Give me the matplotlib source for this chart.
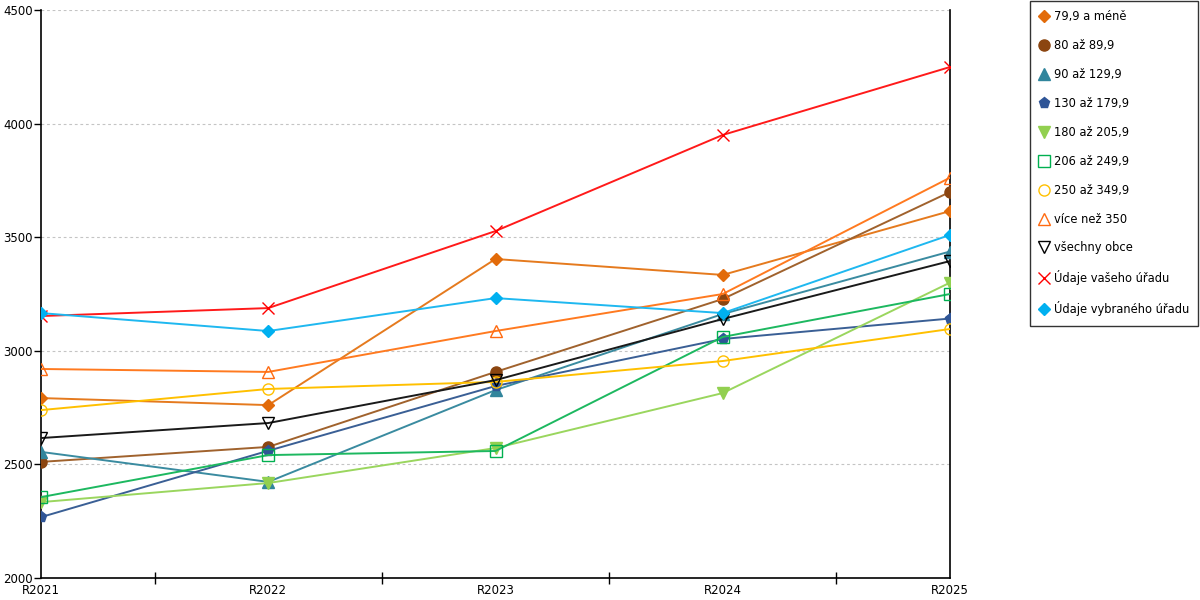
import matplotlib
matplotlib.use('Agg')
import matplotlib.pyplot as plt
from matplotlib.lines import Line2D

years = ['R2021', 'R2022', 'R2023', 'R2024', 'R2025']

# values per series
s_79 = [2792, 2761, 3404, 3334, 3615]
s_80 = [2511, 2577, 2907, 3228, 3699]
s_90 = [2555, 2423, 2827, 3162, 3437]
s_130 = [2268, 2560, 2845, 3052, 3142]
s_180 = [2334, 2418, 2572, 2814, 3300]
s_206 = [2356, 2541, 2559, 3061, 3250]
s_250 = [2739, 2832, 2863, 2955, 3096]
s_350 = [2920, 2907, 3087, 3250, 3762]
s_all = [2616, 2682, 2871, 3140, 3395]
s_vas = [3153, 3188, 3527, 3950, 4249]
s_vyb = [3166, 3087, 3232, 3166, 3510]

labels = ['79,9 a méně', '80 až 89,9', '90 až 129,9', '130 až 179,9', '180 až 205,9',
          '206 až 249,9', '250 až 349,9', 'více než 350', 'všechny obce',
          'Údaje vašeho úřadu', 'Údaje vybraného úřadu']

# (values, line colour, marker, marker face, marker edge, size)
styles = [
    (s_79, '#E57A1E', 'D', '#E26B0A', '#E26B0A', 6),
    (s_80, '#A0622D', 'o', '#8B4510', '#8B4510', 8),
    (s_90, '#3A8BA0', '^', '#31859C', '#31859C', 8),
    (s_130, '#3A5F95', 'p', '#2F5597', '#2F5597', 8),
    (s_180, '#9AD65E', 'v', '#92D050', '#92D050', 8),
    (s_206, '#1DB860', 's', 'none', '#00B050', 8),
    (s_250, '#FFC000', 'o', 'none', '#FFC000', 8),
    (s_350, '#FF7A20', '^', 'none', '#FF6A10', 9),
    (s_all, '#1A1A1A', 'v', 'none', '#000000', 9),
    (s_vas, '#FF1A1A', 'x', '#FF0000', '#FF0000', 9),
    (s_vyb, '#1FB8F0', 'D', '#00B0F0', '#00B0F0', 6),
]

fig = plt.figure(figsize=(12, 6), dpi=100)
ax = fig.add_axes([41 / 1200, 1 - 578 / 600, (950 - 41) / 1200, (578 - 10) / 600])

x = list(range(len(years)))
handles = []
for (vals, lc, mk, mf, me, ms), lab in zip(styles, labels):
    ax.plot(x, vals, color=lc, linewidth=1.4, marker=mk, markerfacecolor=mf,
            markeredgecolor=me, markersize=ms, markeredgewidth=1.0, zorder=3)
    handles.append(Line2D([], [], linestyle='none', marker=mk, markerfacecolor=mf,
                          markeredgecolor=me, markersize=ms, markeredgewidth=1.0, label=lab))

ax.set_xlim(0, 4)
ax.set_ylim(2000, 4500)
ax.set_yticks([2000, 2500, 3000, 3500, 4000, 4500])
ax.set_xticks(x)
ax.set_xticklabels(years)
ax.set_xticks([0.5, 1.5, 2.5, 3.5], minor=True)
ax.tick_params(axis='x', which='minor', direction='inout', length=8, width=1)
ax.tick_params(axis='x', which='major', length=0, labelsize=8.5, pad=4)
ax.tick_params(axis='y', direction='out', length=5, width=1, labelsize=8.5, pad=1)

ax.grid(axis='y', color='#C4C4C4', linestyle=(0, (2.5, 2.5)), linewidth=0.8, zorder=0)
ax.spines['top'].set_visible(False)
for sp in ['left', 'bottom', 'right']:
    ax.spines[sp].set_color('black')
    ax.spines[sp].set_linewidth(1.2)

leg = fig.legend(handles=handles, loc='upper right',
                 bbox_to_anchor=(1198 / 1200, 1 - 1 / 600), frameon=True,
                 fancybox=False, edgecolor='black', fontsize=8.3, labelspacing=1.38,
                 handlelength=0.7, handletextpad=0.5, borderpad=0.8,
                 borderaxespad=0)
leg.get_frame().set_linewidth(1.0)

fig.savefig('out.png', dpi=100, facecolor='white')
